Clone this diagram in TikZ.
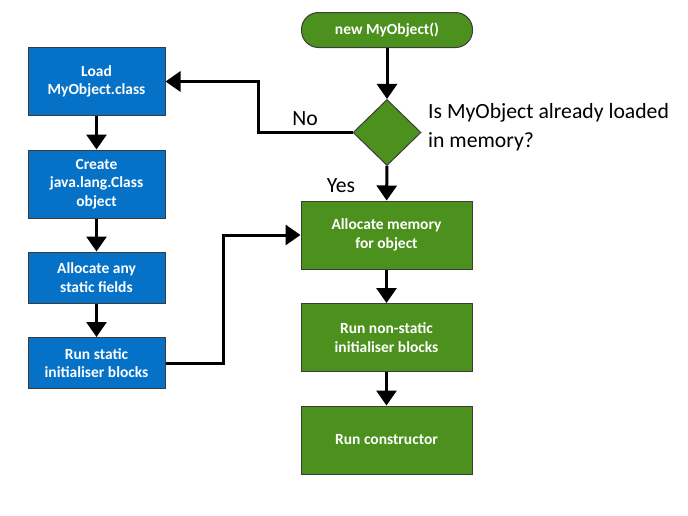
\documentclass[tikz,border=0pt]{standalone}
\usepackage{fontspec}
\setmainfont{Carlito}
\usetikzlibrary{shapes.geometric,arrows.meta}
\definecolor{boxblue}{RGB}{5,114,200}
\definecolor{boxgreen}{RGB}{76,144,30}
\definecolor{edgegray}{RGB}{60,60,60}
\begin{document}
\begin{tikzpicture}[x=1pt,y=-1pt,
  bluebox/.style={draw=edgegray,line width=1pt,fill=boxblue,text=white,font=\fontsize{15.5}{18.7}\selectfont\bfseries,align=center,minimum width=137pt,inner sep=0pt},
  greenbox/.style={draw=edgegray,line width=1pt,fill=boxgreen,text=white,font=\fontsize{15.5}{18.7}\selectfont\bfseries,align=center,minimum width=171pt,minimum height=68pt,inner sep=0pt},
  conn/.style={line width=3pt,-{Triangle[width=20pt,length=15pt]}},
  lbl/.style={font=\fontsize{21.7}{29}\selectfont,align=left,inner sep=0pt}]
\useasboundingbox (0,0) rectangle (688,515);
% right column
\node[greenbox,rounded corners=17pt,minimum height=35pt] (start) at (387,30) {new MyObject()};
\node[draw=edgegray,line width=1pt,fill=boxgreen,diamond,minimum width=68pt,minimum height=66pt,inner sep=0pt] (dec) at (387,132.5) {};
\node[greenbox] (alloc) at (386.5,235) {Allocate memory\\for object};
\node[greenbox] (nonstatic) at (386.5,337.5) {Run non-static\\initialiser blocks};
\node[greenbox] (ctor) at (386.5,440) {Run constructor};
% left column
\node[bluebox,minimum height=68pt] (load) at (96.5,81.5) {Load\\MyObject.class};
\node[bluebox,minimum height=68pt] (create) at (96.5,184) {Create\\java.lang.Class\\object};
\node[bluebox,minimum height=51pt] (fields) at (96.5,277.5) {Allocate any\\static fields};
\node[bluebox,minimum height=51pt] (static) at (96.5,363) {Run static\\initialiser blocks};
% labels
\node[lbl,anchor=base west] (question) at (428,147) {Is MyObject already loaded\\in memory?};
\node[lbl] (no) at (305,119) {No};
\node[lbl] (yes) at (341,186) {Yes};
% connectors
\coordinate (c1) at (258,132.5);
\coordinate (c2) at (258,81.5);
\coordinate (c3) at (223,363);
\coordinate (c4) at (223,235);
\draw[conn] (start) -- (dec);
\draw[conn] (dec) -- (alloc);
\draw[conn] (alloc) -- (nonstatic);
\draw[conn] (nonstatic) -- (ctor);
\draw[conn] (load) -- (create);
\draw[conn] (create) -- (fields);
\draw[conn] (fields) -- (static);
\draw[conn] (dec.west) -- (c1) -- (c2) -- (load.east);
\draw[conn] (static.east) -- (c3) -- (c4) -- (alloc.west);
\end{tikzpicture}
\end{document}
